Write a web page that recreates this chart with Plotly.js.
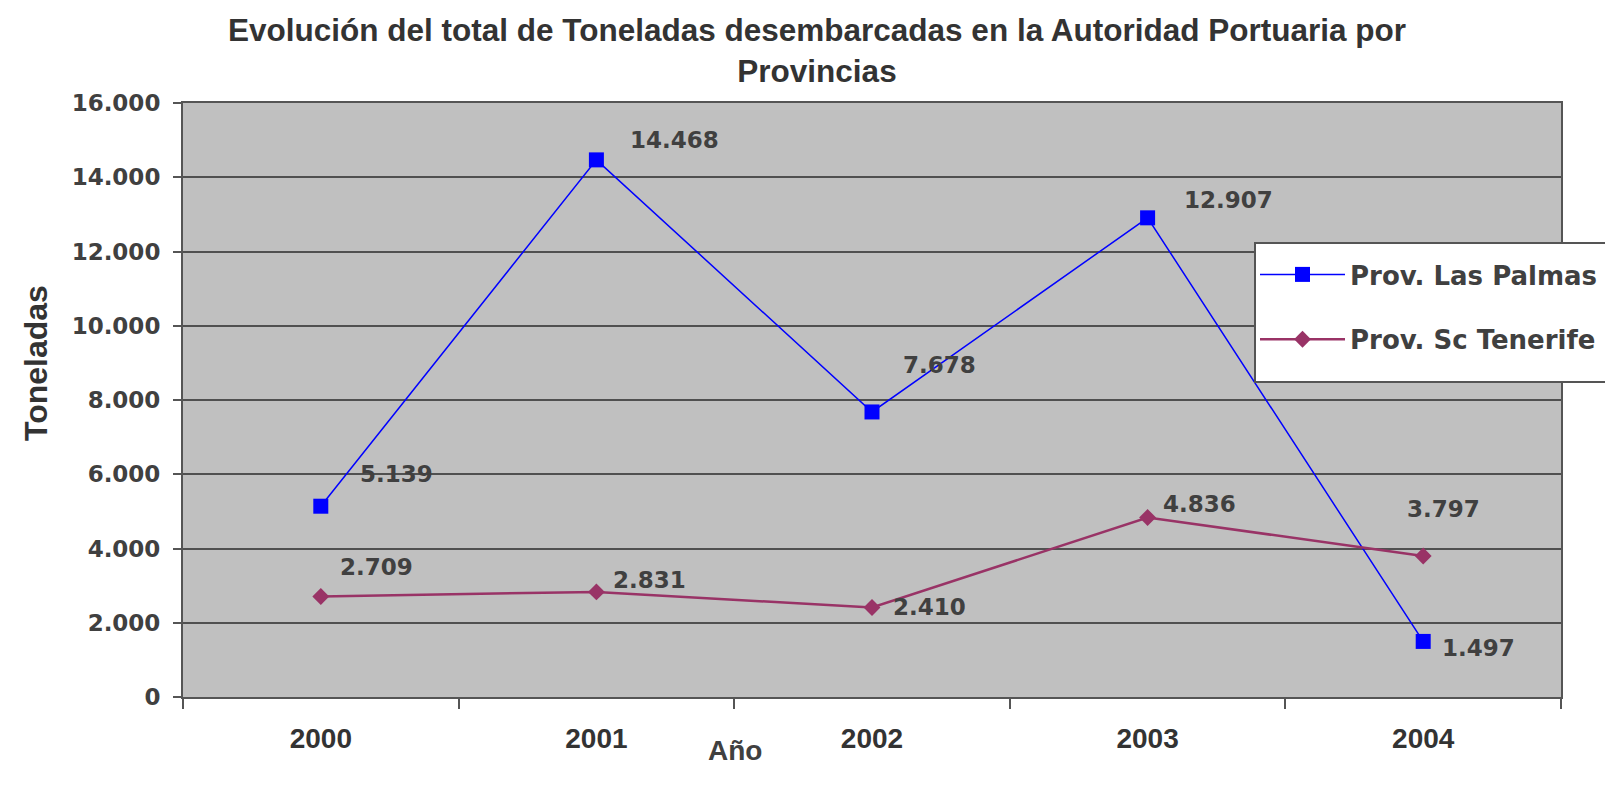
<!DOCTYPE html>
<html>
<head>
<meta charset="utf-8">
<script src="https://cdn.plot.ly/plotly-3.0.1.min.js"></script>
<style>html,body{margin:0;padding:0;background:#fff;}#chart{width:1605px;height:787px;}</style>
</head>
<body>
<div id="chart"></div>
<script>
// ---- data ----
const years = ["2000", "2001", "2002", "2003", "2004"];
const lasPalmas = [5139, 14468, 7678, 12907, 1497];
const tenerife = [2709, 2831, 2410, 4836, 3797];
const seriesNames = ["Prov. Las Palmas", "Prov. Sc Tenerife"];
const yTickVals = [0, 2000, 4000, 6000, 8000, 10000, 12000, 14000, 16000];

// label offsets (styling only, px)
const lpShift = [[76, -32], [78, -20], [67, -47], [81, -18], [55, 7]];
const tfShift = [[56, -29], [53, -12], [57, -1], [52, -13], [20, -47]];

const txtCol = '#404040';
const wideFont = {family: 'DejaVu Sans', size: 23, color: txtCol, weight: 'bold'};
const legendFont = {family: 'DejaVu Sans', size: 26, color: txtCol, weight: 'bold'};
const titleFont = {family: 'Liberation Sans, Arial', size: 31.5, color: '#333333', weight: 'bold'};

function fmt(v) {
  return String(v).replace(/\B(?=(\d{3})+(?!\d))/g, '.');
}

const annotations = [];
years.forEach((y, i) => {
  annotations.push({x: i, y: lasPalmas[i], xref: 'x', yref: 'y', text: fmt(lasPalmas[i]),
    showarrow: false, xshift: lpShift[i][0], yshift: -lpShift[i][1], font: wideFont});
  annotations.push({x: i, y: tenerife[i], xref: 'x', yref: 'y', text: fmt(tenerife[i]),
    showarrow: false, xshift: tfShift[i][0], yshift: -tfShift[i][1], font: wideFont});
});
annotations.push({xref: 'paper', yref: 'paper', x: (36 - 183) / 1378, y: (697 - 363) / 594,
  text: 'Toneladas', textangle: -90, showarrow: false, xanchor: 'center', yanchor: 'middle',
  font: {family: 'Liberation Sans, Arial', size: 32, color: '#333333', weight: 'bold'}});
annotations.push({xref: 'paper', yref: 'paper', x: (735 - 183) / 1378, y: (697 - 750) / 594,
  text: 'Año', showarrow: false, xanchor: 'center', yanchor: 'middle',
  font: {family: 'Liberation Sans, Arial', size: 28, color: '#404040', weight: 'bold'}});

const traces = [
  {x: years, y: lasPalmas, name: seriesNames[0], type: 'scatter', mode: 'lines+markers',
   legendgroup: 'a',
   line: {color: '#0000ff', width: 1.5},
   marker: {symbol: 'square', size: 15, color: '#0000ff'}},
  {x: years, y: tenerife, name: seriesNames[1], type: 'scatter', mode: 'lines+markers',
   legendgroup: 'b',
   line: {color: '#993366', width: 2.5},
   marker: {symbol: 'diamond', size: 13, color: '#993366'}}
];

const layout = {
  width: 1605, height: 787,
  margin: {l: 183, r: 44, t: 103, b: 90, autoexpand: false},
  paper_bgcolor: '#ffffff',
  plot_bgcolor: '#c0c0c0',
  separators: ',.',
  title: {
    text: 'Evolución del total de Toneladas desembarcadas en la Autoridad Portuaria por<br>Provincias',
    font: titleFont,
    xref: 'container', x: 817 / 1605, xanchor: 'center',
    yref: 'container', y: 1 - 41 / 787, yanchor: 'middle'
  },
  xaxis: {
    type: 'category', range: [-0.5, 4.5],
    tickson: 'boundaries', ticks: 'outside', ticklen: 10, tickwidth: 2, tickcolor: '#555555',
    showgrid: false, zeroline: false,
    showline: true, linecolor: '#555555', linewidth: 2, mirror: true,
    tickfont: {family: 'Liberation Sans, Arial', size: 28, color: '#333333', weight: 'bold'},
    ticklabelstandoff: 15
  },
  yaxis: {
    range: [0, 16000], tickvals: yTickVals, tickformat: ',d',
    ticks: 'outside', ticklen: 8, tickwidth: 2, tickcolor: '#555555',
    showgrid: true, gridcolor: '#505050', gridwidth: 2,
    zeroline: false,
    showline: true, linecolor: '#555555', linewidth: 2, mirror: true,
    tickfont: wideFont,
    ticklabelstandoff: 8
  },
  shapes: [{
    type: 'rect', xref: 'paper', yref: 'paper', layer: 'above',
    x0: (1255 - 183) / 1378, x1: (1640 - 183) / 1378,
    y0: (697 - 382) / 594, y1: (697 - 243) / 594,
    fillcolor: '#ffffff', line: {color: '#555555', width: 2}
  }],
  showlegend: true,
  legend: {
    x: (1255 - 183) / 1378, y: (697 - 251) / 594, xanchor: 'left', yanchor: 'top',
    bgcolor: 'rgba(0,0,0,0)', borderwidth: 0,
    font: legendFont, itemwidth: 85, tracegroupgap: 28, traceorder: 'grouped'
  },
  annotations: annotations
};

Plotly.newPlot('chart', traces, layout, {displayModeBar: false, staticPlot: true});
</script>
</body>
</html>
